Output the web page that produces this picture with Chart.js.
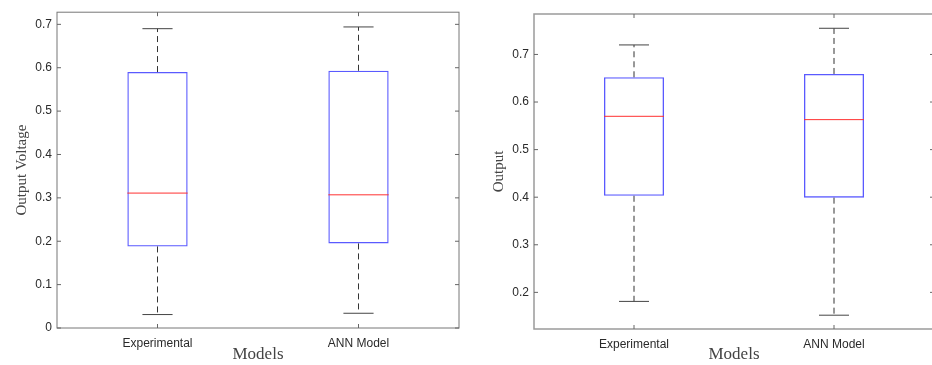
<!DOCTYPE html>
<html>
<head>
<meta charset="utf-8">
<script src="https://cdn.jsdelivr.net/npm/chart.js@4.4.1/dist/chart.umd.min.js"></script>
<style>
  html, body { margin: 0; padding: 0; background: #fff; overflow: hidden; }
  #wrap { position: relative; width: 932px; height: 365px; }
  .panel { position: absolute; top: 0; height: 365px; }
  #left { left: 0; width: 466px; }
  #right { left: 466px; width: 470px; }
</style>
</head>
<body>
<div id="wrap">
  <div class="panel" id="left"><canvas id="voltChart"></canvas></div>
  <div class="panel" id="right"><canvas id="outChart"></canvas></div>
</div>
<script>
// Categorias comunes
const categories = ['Experimental', 'ANN Model'];

// Panel izquierdo: Output Voltage
const voltMin = [0.031, 0.034];
const voltQ1 = [0.188, 0.195];
const voltMedian = [0.311, 0.307];
const voltQ3 = [0.590, 0.593];
const voltMax = [0.690, 0.694];
const voltTicks = [0, 0.1, 0.2, 0.3, 0.4, 0.5, 0.6, 0.7];

// Panel derecho: Output
const outMin = [0.181, 0.152];
const outQ1 = [0.403, 0.399];
const outMedian = [0.570, 0.563];
const outQ3 = [0.652, 0.659];
const outMax = [0.720, 0.755];
const outTicks = [0.2, 0.3, 0.4, 0.5, 0.6, 0.7];

const tickFont = { family: '"Liberation Sans", Arial, sans-serif', size: 12 };
const titleFont = { family: '"Liberation Serif", "Times New Roman", serif', size: 15 };
const xTitleFont = { family: '"Liberation Serif", "Times New Roman", serif', size: 17 };

// Bigotes, mediana, marco y ticks hacia dentro (estilo MATLAB)
const boxplotPlugin = {
    id: 'boxplotExtras',
    afterDatasetsDraw(chart, args, opts) {
        const ctx = chart.ctx;
        const x = chart.scales.x;
        const y = chart.scales.y;
        const meta = chart.getDatasetMeta(0);
        const area = chart.chartArea;

        ctx.save();
        opts.q1.forEach((q1, i) => {
            const cx = x.getPixelForValue(i);
            const bw = meta.data[i].width;
            const capHalf = bw / 4;

            // bigotes discontinuos
            ctx.strokeStyle = '#333';
            ctx.lineWidth = 1;
            ctx.setLineDash([6, 4]);
            ctx.beginPath();
            ctx.moveTo(cx, y.getPixelForValue(opts.q3[i]));
            ctx.lineTo(cx, y.getPixelForValue(opts.max[i]));
            ctx.moveTo(cx, y.getPixelForValue(q1));
            ctx.lineTo(cx, y.getPixelForValue(opts.min[i]));
            ctx.stroke();

            // topes
            ctx.setLineDash([]);
            ctx.strokeStyle = '#444';
            ctx.beginPath();
            ctx.moveTo(cx - capHalf, y.getPixelForValue(opts.max[i]));
            ctx.lineTo(cx + capHalf, y.getPixelForValue(opts.max[i]));
            ctx.moveTo(cx - capHalf, y.getPixelForValue(opts.min[i]));
            ctx.lineTo(cx + capHalf, y.getPixelForValue(opts.min[i]));
            ctx.stroke();

            // mediana
            ctx.strokeStyle = '#ff3030';
            ctx.beginPath();
            ctx.moveTo(cx - bw / 2, y.getPixelForValue(opts.median[i]));
            ctx.lineTo(cx + bw / 2, y.getPixelForValue(opts.median[i]));
            ctx.stroke();
        });

        // marco
        ctx.strokeStyle = opts.frameColor;
        ctx.lineWidth = opts.frameWidth;
        ctx.strokeRect(area.left, area.top, area.right - area.left, area.bottom - area.top);

        // ticks hacia dentro
        ctx.lineWidth = 1;
        ctx.strokeStyle = '#666';
        ctx.beginPath();
        y.ticks.forEach(t => {
            const py = y.getPixelForValue(t.value);
            ctx.moveTo(area.left, py);
            ctx.lineTo(area.left + 4, py);
            ctx.moveTo(area.right, py);
            ctx.lineTo(area.right - 4, py);
        });
        opts.q1.forEach((q1, i) => {
            const px = x.getPixelForValue(i);
            ctx.moveTo(px, area.bottom);
            ctx.lineTo(px, area.bottom - 4);
            ctx.moveTo(px, area.top);
            ctx.lineTo(px, area.top + 4);
        });
        ctx.stroke();
        ctx.restore();
    }
};

function makeBoxChart(canvasId, s) {
    const ctx = document.getElementById(canvasId).getContext('2d');
    return new Chart(ctx, {
        type: 'bar',
        data: {
            labels: categories,
            datasets: [{
                data: categories.map((c, i) => [s.q1[i], s.q3[i]]),
                backgroundColor: 'rgba(0,0,0,0)',
                borderColor: '#5a5aff',
                borderWidth: 1.3,
                borderSkipped: false,
                barPercentage: 0.3,
                categoryPercentage: 1
            }]
        },
        options: {
            responsive: true,
            maintainAspectRatio: false,
            animation: false,
            events: [],
            layout: { padding: s.padding },
            plugins: {
                legend: { display: false },
                tooltip: { enabled: false },
                boxplotExtras: {
                    q1: s.q1, q3: s.q3, median: s.median, min: s.min, max: s.max,
                    frameColor: s.frameColor, frameWidth: s.frameWidth
                }
            },
            scales: {
                x: {
                    offset: true,
                    grid: { display: false, drawTicks: false },
                    border: { display: false },
                    ticks: { color: '#2a2a2a', font: tickFont, padding: 8 },
                    title: { display: true, text: 'Models', color: '#444', font: xTitleFont, padding: { top: 0, bottom: 0 } },
                    afterFit: scale => { scale.height = s.xHeight; }
                },
                y: {
                    min: s.yMin,
                    max: s.yMax,
                    grid: { display: false, drawTicks: false },
                    border: { display: false },
                    ticks: { color: '#2a2a2a', font: tickFont, padding: 5 },
                    afterBuildTicks: scale => { scale.ticks = s.ticks.map(v => ({ value: v })); },
                    title: { display: true, text: s.yTitle, color: '#444', font: titleFont, padding: { top: s.yTitlePad, bottom: 0 } },
                    afterFit: scale => { scale.width = s.yWidth; }
                }
            }
        },
        plugins: [boxplotPlugin]
    });
}

makeBoxChart('voltChart', {
    q1: voltQ1, q3: voltQ3, median: voltMedian, min: voltMin, max: voltMax,
    ticks: voltTicks, yMin: 0, yMax: 0.728, yTitle: 'Output Voltage',
    padding: { top: 10, right: 7, left: 0, bottom: 0 },
    yWidth: 57, xHeight: 37, yTitlePad: 13,
    frameColor: '#777', frameWidth: 1
});

makeBoxChart('outChart', {
    q1: outQ1, q3: outQ3, median: outMedian, min: outMin, max: outMax,
    ticks: outTicks, yMin: 0.123, yMax: 0.785, yTitle: 'Output',
    padding: { top: 14, right: 2, left: 0, bottom: 0 },
    yWidth: 68, xHeight: 36, yTitlePad: 24,
    frameColor: '#9a9a9a', frameWidth: 1.5
});
</script>
</body>
</html>
